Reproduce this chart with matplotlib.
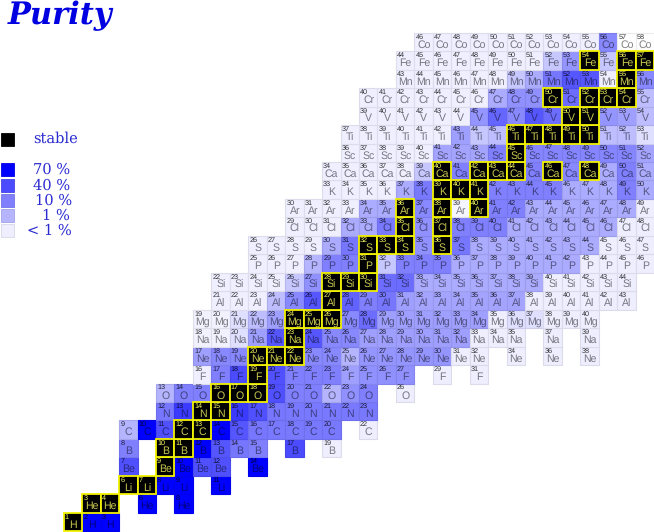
import numpy as np
import matplotlib
matplotlib.use('Agg')
import matplotlib.pyplot as plt
from matplotlib.patches import Rectangle

plt.rcParams['text.hinting'] = 'no_hinting'

# purity in percent for every isotope, lightest mass number first
# S = stable, None = isotope not in the table
S = 100
h_vals = [S, 70, 70]
he_vals = [S, S, None, 70, None, 70]
li_vals = [S, S, 70, 70, None, 70]
be_vals = [35, None, S, 70, 35, 35, None, 70]
b_vals = [10, None, S, S, 70, 30, 13, 10, None, 40, None, 0.5]
c_vals = [1, 70, 35, S, S, 70, 30, 13, 12, 12, 12, 12, None, 0.5]
n_vals = [13, 45, S, S, 45, 35, 13, 12, 12, 12, 12, 12]
o_vals = [1, 10, 10, S, S, S, 35, 10, 10, 1, 5, 10, None, 0.5]
f_vals = [0.4, 10, 40, S, 35, 10, 10, 10, 2.5, 5, 5, 5, None, 0.5, None, 0.5]
ne_vals = [2.5, 7, 7, S, S, S, 7, 7, 1, 4, 4, 4, 4, 4, 0.5, 0.5, None, 0.5, None, 0.5, None, 0.5]
na_vals = [0.2, 0.2, 0.6, 2.5, 30, S, 30, 7, 7, 2.5, 2.5, 2.5, 2.5, 2.5, 2.5, 0.5, 0.5, 0.5, None, 0.5, None, 0.5]
mg_vals = [0.2, 0.2, 0.6, 0.9, 2.5, S, S, S, 7, 17, 2.5, 2.5, 2.5, 2.5, 2.5, 2.5, 0.5, 0.6, 0.6, 0.5, 0.5, 0.5]
al_vals = [0.4, 0.4, 0.4, 0.9, 7, 30, S, 22, 10, 13, 2.5, 2, 2, 2, 2, 2, 2, 0.5, 0.5, 0.5, 0.5, 0.5, 0.5]
si_vals = [0.4, 0.4, 0.4, 0.4, 0.8, 5, S, S, S, 17, 17, 1.5, 1.5, 1.5, 1.5, 1.5, 1.5, 1.5, 0.5, 0.5, 0.5, 0.5, 0.5]
p_vals = [0.4, 0.4, 0.4, 1, 10, 10, S, 0.8, 10, 10, 10, 1.5, 1.5, 1.5, 1.5, 1.5, 1.5, 1.5, 0.5, 0.5, 0.5, 0.5]
s_vals = [0.4, 0.4, 0.4, 0.4, 1.5, 13, S, S, S, 5, S, 13, 1.5, 1.5, 1.5, 1.5, 1.5, 1.5, 1.5, 0.5, 0.5, 0.5]
cl_vals = [0.4, 0.4, 0.4, 1.5, 1.5, 12, S, 5, S, 10, 10, 10, 1.5, 1.5, 1.5, 1.5, 1.5, 1.5, 0.5, 0.5]
ar_vals = [0.4, 0.4, 0.4, 0.4, 1.5, 1.5, S, 7, S, 0.1, S, 10, 10, 1.5, 1.5, 1.5, 1.5, 1.5, 1.5, 0.5]
k_vals = [0.4, 0.4, 0.4, 0.4, 1.5, 12, S, S, S, 10, 10, 10, 10, 1.5, 1.5, 1.5, 10, 1.5]
ca_vals = [0.4, 0.4, 0.4, 0.4, 0.4, 0.8, S, 10, S, S, S, 10, S, 7, S, 1.5, 10, 1.5]
sc_vals = [0.4, 0.4, 0.4, 0.4, 0.4, 2, 2, 2, 10, S, 8, 8, 8, 8, 8, 8, 2]
ti_vals = [0.4, 0.4, 0.4, 0.4, 0.4, 0.4, 2.5, 0.8, 0.9, S, S, S, S, S, 0.9, 0.9, 0.6]
v_vals = [0.4, 0.4, 0.4, 0.4, 0.4, 0.4, 4, 20, 7, 30, 17, S, S, 4, 2.5, 0.9]
cr_vals = [0.4, 0.4, 0.4, 0.4, 0.4, 0.4, 0.4, 1.5, 5, 5, S, 17, S, S, S, 0.9]
mn_vals = [0.4, 0.4, 0.4, 0.4, 0.4, 0.4, 0.8, 1.5, 13, 30, 30, 0.5, S, 7]
fe_vals = [0.4, 0.4, 0.4, 0.4, 0.4, 0.4, 0.4, 0.4, 0.8, 4, S, 0.8, S, S]
co_vals = [0.4, 0.4, 0.4, 0.4, 0.4, 0.4, 0.4, 0.4, 0.4, 0.4, 7, 0.01, 0.01]

symbols = ['H', 'He', 'Li', 'Be', 'B', 'C', 'N', 'O', 'F', 'Ne', 'Na', 'Mg', 'Al', 'Si',
           'P', 'S', 'Cl', 'Ar', 'K', 'Ca', 'Sc', 'Ti', 'V', 'Cr', 'Mn', 'Fe', 'Co']
first_mass = [1, 3, 6, 7, 8, 9, 12, 13, 16, 17, 18, 19, 21, 22,
              25, 26, 29, 30, 33, 34, 36, 37, 39, 40, 43, 44, 46]
rows = [h_vals, he_vals, li_vals, be_vals, b_vals, c_vals, n_vals, o_vals, f_vals, ne_vals,
        na_vals, mg_vals, al_vals, si_vals, p_vals, s_vals, cl_vals, ar_vals, k_vals, ca_vals,
        sc_vals, ti_vals, v_vals, cr_vals, mn_vals, fe_vals, co_vals]

legend_labels = ['70 %', '40 %', '10 %', '1 %', '< 1 %']
legend_vals = [70, 40, 10, 1, 0.5]

# how much red/green is left in the blue for a given purity
shade_p = np.log10([0.01, 0.5, 1, 10, 40, 70])
shade_rg = [255, 238, 180, 128, 75, 0]


def cell_color(p):
    rg = np.interp(np.log10(p), shade_p, shade_rg) / 255
    return (rg, rg, 1.0)


def scaled(col, f):
    return tuple(c * f for c in col)


def cell_labels(n, z, a, sym, num_col, sym_col):
    ax.text(n - 0.44, z + 0.28, str(a), fontsize=5.2, color=num_col, ha='left', va='center', zorder=4,
            family='Liberation Sans')
    ax.text(n + 0.02, z - 0.15, sym, fontsize=7.6, color=sym_col, ha='center', va='center', zorder=4,
            family='Liberation Sans')


W, H = 654, 532
CELL_X, CELL_Y = 18.45, 18.46
fig = plt.figure(figsize=(W / 100, H / 100), dpi=100)
ax = fig.add_axes([0, 0, 1, 1])
# neutron number across, proton number up, one cell per nuclide
ax.set_xlim(-73 / CELL_X, (W - 73) / CELL_X)
ax.set_ylim(1 - (H - 522) / CELL_Y, 1 + 522 / CELL_Y)
ax.axis('off')

stable_cells = []
for z0, (sym, a0, vals) in enumerate(zip(symbols, first_mass, rows)):
    z = z0 + 1
    for i, p in enumerate(vals):
        if p is None:
            continue
        a = a0 + i
        n = a - z
        if p == S:
            stable_cells.append((n, z, a, sym))
            continue
        col = cell_color(p)
        ax.add_patch(Rectangle((n - 0.5, z - 0.5), 1, 1, facecolor=col, edgecolor=scaled(col, 0.92),
                               linewidth=0.8, zorder=1))
        cell_labels(n, z, a, sym, scaled(col, 0.2), scaled(col, 0.5))

# stable ones go on top so the yellow frame is not covered
for n, z, a, sym in stable_cells:
    ax.add_patch(Rectangle((n - 0.5, z - 0.5), 1, 1, facecolor='black', edgecolor='#f2f200', linewidth=1.3, zorder=2))
    cell_labels(n, z, a, sym, '#ffff66', '#c8c850')

# title and legend sit in plain pixel positions
ink = '#2a2ad0'
fig.text(8 / W, 1 - 24 / H, 'Purity', fontsize=22, color='#0000e0', family='DejaVu Serif',
         style='italic', weight='bold', ha='left', va='baseline')


def legend_box(y0, col):
    fig.add_artist(Rectangle((1 / W, 1 - (y0 + 13) / H), 13 / W, 13 / H, transform=fig.transFigure,
                             facecolor=col, edgecolor=scaled(col, 0.9), linewidth=0.6))


legend_box(133, (0, 0, 0))
fig.text(33 / W, 1 - 139 / H, 'stable', fontsize=10.5, color=ink, family='DejaVu Serif', ha='left', va='center')
label_x = [33, 33, 35, 42, 27]
box_y = [163, 179, 194, 209, 224]
for lab, p, lx, by in zip(legend_labels, legend_vals, label_x, box_y):
    legend_box(by, cell_color(p))
    fig.text(lx / W, 1 - (by + 6.5) / H, lab, fontsize=10.5, color=ink, family='DejaVu Serif', ha='left', va='center')

fig.savefig('out.png', dpi=100)
